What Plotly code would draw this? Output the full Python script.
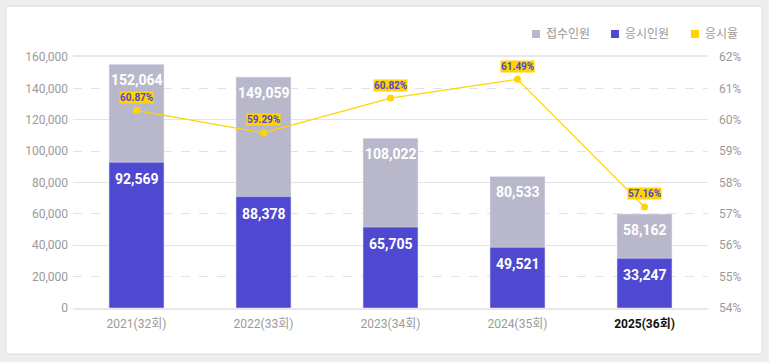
import plotly.graph_objects as go

# ---- data ----
categories = ["2021(32회)", "2022(33회)", "2023(34회)", "2024(35회)", "2025(36회)"]
applicants_label = ["152,064", "149,059", "108,022", "80,533", "58,162"]
takers_label = ["92,569", "88,378", "65,705", "49,521", "33,247"]
rate_label = ["60.87%", "59.29%", "60.82%", "61.49%", "57.16%"]
# heights as drawn in the picture
applicants_drawn = [155300, 147200, 108200, 83900, 59900]
takers_drawn = [92900, 71000, 51600, 38700, 31700]
rate_drawn = [60.30, 59.58, 60.69, 61.29, 57.22]
legend_names = ["접수인원", "응시인원", "응시율"]

GRAY = "#b9b8cb"
PURPLE = "#4f48d0"
YELLOW = "#ffd400"
FONT = "Roboto, 'Noto Sans CJK KR', sans-serif"

W, H = 769, 362
L, R, T, B = 73, 61, 57, 54
PW, PH = W - L - R, H - T - B


def px(x):
    return (x - L) / PW


def py(y):
    return (H - B - y) / PH


fig = go.Figure()
fig.add_bar(x=categories, y=applicants_drawn, marker_color=GRAY, name=legend_names[0],
            showlegend=False, width=0.433, hoverinfo="skip")
fig.add_bar(x=categories, y=takers_drawn, marker_color=PURPLE, name=legend_names[1],
            showlegend=False, width=0.433, hoverinfo="skip")
fig.add_scatter(x=categories, y=rate_drawn, yaxis="y2", mode="lines+markers",
                line=dict(color=YELLOW, width=1.2), marker=dict(color=YELLOW, size=7),
                name=legend_names[2], showlegend=False, hoverinfo="skip")

annotations = []
for c, v, t in zip(categories, applicants_drawn, applicants_label):
    annotations.append(dict(x=c, y=v, xref="x", yref="y", text=t, showarrow=False,
                            yshift=-16, font=dict(family=FONT, size=14, color="white", weight="bold")))
for c, v, t in zip(categories, takers_drawn, takers_label):
    annotations.append(dict(x=c, y=v, xref="x", yref="y", text=t, showarrow=False,
                            yshift=-17, font=dict(family=FONT, size=14, color="white", weight="bold")))
for c, v, t in zip(categories, rate_drawn, rate_label):
    annotations.append(dict(x=c, y=v, xref="x", yref="y2", text=t, showarrow=False,
                            yshift=13, bgcolor=YELLOW, borderpad=0,
                            font=dict(family=FONT, size=10, color=PURPLE, weight="bold")))

shapes = [dict(type="rect", xref="paper", yref="paper", x0=px(6), x1=px(762), y0=py(354), y1=py(6),
               fillcolor="white", line=dict(color="#dcdcdc", width=1), layer="below")]

# legend (manual)
legend_colors = [GRAY, PURPLE, YELLOW]
legend_sq_x = [532, 611, 691]
for name, col, sx in zip(legend_names, legend_colors, legend_sq_x):
    shapes.append(dict(type="rect", xref="paper", yref="paper", x0=px(sx), x1=px(sx + 8),
                       y0=py(38), y1=py(30), fillcolor=col, line=dict(width=0)))
    annotations.append(dict(x=px(sx + 12), y=py(34), xref="paper", yref="paper", text=name,
                            showarrow=False, xanchor="left", yanchor="middle",
                            font=dict(family=FONT, size=12, color="#9a9a9a")))

ticktext = categories[:-1] + ["<span style='color:#111111'><b>" + categories[-1] + "</b></span>"]

fig.update_layout(
    width=W, height=H, autosize=False,
    margin=dict(l=L, r=R, t=T, b=B, pad=0),
    paper_bgcolor="#eeeeee", plot_bgcolor="rgba(0,0,0,0)",
    barmode="overlay", showlegend=False,
    font=dict(family=FONT, size=12, color="#9a9a9a"),
    xaxis=dict(tickmode="array", tickvals=categories, ticktext=ticktext, showgrid=False,
               showline=True, mirror=True, linecolor="#e8e8e8", linewidth=2,
               ticks="", ticklabelstandoff=4, tickfont=dict(size=12, color="#9a9a9a")),
    yaxis=dict(range=[0, 160000], dtick=20000, tickformat=",", showgrid=True,
               gridcolor="#e2e2e2", griddash="dash", gridwidth=1, zeroline=False,
               tickfont=dict(size=12, color="#9a9a9a"), ticklabelstandoff=4),
    yaxis3=dict(range=[0, 160000], dtick=40000, overlaying="y", side="left",
                showticklabels=False, showgrid=True, gridcolor="#e4e4e4", gridwidth=1,
                zeroline=False),
    yaxis2=dict(range=[54, 62], dtick=1, ticksuffix="%", overlaying="y", side="right",
                showgrid=False, zeroline=False, tickfont=dict(size=12, color="#9a9a9a"),
                ticklabelstandoff=10),
    shapes=shapes, annotations=annotations,
)
# attach an invisible trace to y3 so its grid is drawn
fig.add_scatter(x=categories, y=[None] * len(categories), yaxis="y3", showlegend=False,
                hoverinfo="skip")

fig.write_html("out.html", config={"displayModeBar": False},
               post_script="document.body.style.margin='0';document.body.style.background='#eeeeee';")
